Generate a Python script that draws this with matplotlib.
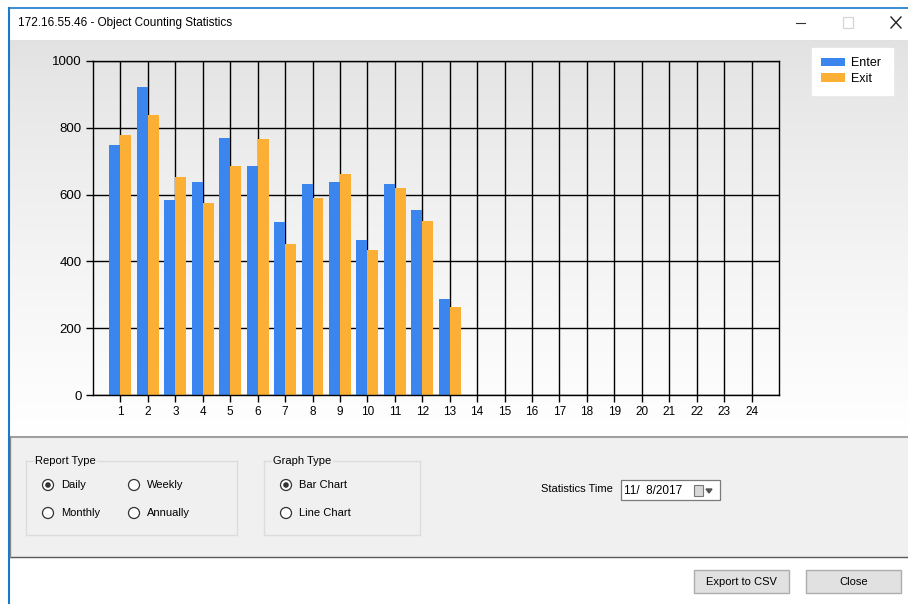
import numpy as np
import matplotlib
matplotlib.use("Agg")
import matplotlib.pyplot as plt
from matplotlib.patches import Rectangle, Circle

# ---------------- data ----------------
hours = list(range(1, 25))
hour_labels = [str(h) for h in hours]
enter_counts = [748, 921, 583, 639, 769, 686, 518, 633, 639, 464, 633, 554, 287]
exit_counts = [777, 838, 652, 574, 686, 766, 453, 590, 661, 434, 621, 521, 262]
y_ticks = [0, 200, 400, 600, 800, 1000]
series_names = ["Enter", "Exit"]
window_title = "172.16.55.46 - Object Counting Statistics"

BLUE = "#3b86ee"
ORANGE = "#fbb035"
FONT = "Liberation Sans"

W, H = 908, 604
fig = plt.figure(figsize=(W / 100, H / 100), dpi=100)

# ---------------- window background (pixel coordinates) ----------------
bg = fig.add_axes([0, 0, 1, 1])
bg.set_xlim(0, W)
bg.set_ylim(H, 0)
bg.axis("off")
bg.add_patch(Rectangle((0, 0), W, H, color="white", zorder=0))

# chart-region vertical gradient
grad = np.linspace(0, 1, 256).reshape(-1, 1)
top_c = np.array([0.885, 0.885, 0.885])
bot_c = np.array([1.0, 1.0, 1.0])
img = top_c + (bot_c - top_c) * grad ** 0.8
img = np.repeat(img[:, None, :], 2, axis=1)
bg.imshow(img, extent=(10, W, 436, 40), aspect="auto", zorder=1)

# window border (blue)
bg.plot([8.5, W], [7.5, 7.5], color="#1979ca", lw=1.2, zorder=5)
bg.plot([8.5, 8.5], [7.5, H], color="#1979ca", lw=1.5, zorder=5)

# title bar
bg.text(18, 23, window_title, fontsize=8.5, family=FONT, va="center", ha="left", zorder=6)
bg.plot([796, 805], [22.5, 22.5], color="#333333", lw=0.8, zorder=6)
bg.add_patch(Rectangle((843, 17), 10, 11, fill=False, ec="#d5d5d5", lw=0.9, zorder=6))
bg.plot([891, 901], [17, 28], color="#222222", lw=1.0, zorder=6)
bg.plot([891, 901], [28, 17], color="#222222", lw=1.0, zorder=6)

# bottom control panel
bg.add_patch(Rectangle((10, 437), W - 10, 120, color="#f0f0f0", zorder=2))
bg.plot([10, W], [437, 437], color="#a0a0a0", lw=1.5, zorder=3)
bg.plot([10, W], [557, 557], color="#5a5a5a", lw=1.0, zorder=3)
bg.plot([10, 10], [437, 557], color="#8a8a8a", lw=1.0, zorder=3)

def group_box(x0, x1, y0, y1, label, lab_x, lab_w):
    c = "#dcdcdc"
    bg.plot([x0, lab_x - 2], [y0, y0], color=c, lw=1, zorder=3)
    bg.plot([lab_x + lab_w, x1], [y0, y0], color=c, lw=1, zorder=3)
    bg.plot([x0, x0], [y0, y1], color=c, lw=1, zorder=3)
    bg.plot([x1, x1], [y0, y1], color=c, lw=1, zorder=3)
    bg.plot([x0, x1], [y1, y1], color=c, lw=1, zorder=3)
    bg.text(lab_x, y0, label, fontsize=8, family=FONT, va="center", ha="left", zorder=4)

group_box(26, 237, 461, 535, "Report Type", 35, 62)
group_box(264, 420, 461, 535, "Graph Type", 273, 60)

def radio(x, y, label, selected=False):
    bg.add_patch(Circle((x, y), 5.5, fc="white", ec="#333333", lw=0.9, zorder=4))
    if selected:
        bg.add_patch(Circle((x, y), 2.8, fc="#333333", ec="none", zorder=5))
    bg.text(x + 13, y, label, fontsize=8, family=FONT, va="center", ha="left", zorder=4)

radio(48, 485, "Daily", True)
radio(134, 485, "Weekly")
radio(48, 513, "Monthly")
radio(134, 513, "Annually")
radio(286, 485, "Bar Chart", True)
radio(286, 513, "Line Chart")

bg.text(541, 489, "Statistics Time", fontsize=8, family=FONT, va="center", ha="left", zorder=4)
bg.add_patch(Rectangle((621, 480), 99, 20, fc="white", ec="#7a7a7a", lw=0.9, zorder=4))
bg.text(624, 490.5, "11/  8/2017", fontsize=8.5, family=FONT, va="center", ha="left", zorder=5)
bg.add_patch(Rectangle((694, 485), 9, 11, fc="#d8d8d8", ec="#777777", lw=0.8, zorder=5))
bg.fill([706, 712, 709], [489, 489, 493], color="#555555", zorder=5)

def button(x0, x1, y0, y1, label):
    bg.add_patch(Rectangle((x0, y0), x1 - x0, y1 - y0, fc="#e1e1e1", ec="#adadad", lw=1, zorder=4))
    bg.text((x0 + x1) / 2, (y0 + y1) / 2 + 0.5, label, fontsize=8, family=FONT,
            va="center", ha="center", zorder=5)

button(694, 789, 570, 593, "Export to CSV")
button(806, 901, 570, 593, "Close")

# ---------------- chart ----------------
ax = fig.add_axes([93 / W, 1 - 395 / H, (779 - 93) / W, (395 - 61) / H])
ax.set_facecolor("none")
x_e = np.arange(1, len(enter_counts) + 1)
x_x = np.arange(1, len(exit_counts) + 1)
bw = 0.4
b1 = ax.bar(x_e - bw / 2, enter_counts, bw, color=BLUE, zorder=2, label=series_names[0])
b2 = ax.bar(x_x + bw / 2, exit_counts, bw, color=ORANGE, zorder=2, label=series_names[1])

ax.set_xlim(0, 25)
ax.set_ylim(0, 1000)
ax.set_xticks(hours)
ax.set_xticklabels(hour_labels, fontsize=8.5, family=FONT)
ax.set_yticks(y_ticks)
ax.set_yticklabels([str(v) for v in y_ticks], fontsize=9.5, family=FONT)
ax.tick_params(axis="both", direction="out", length=5, width=1, color="black", pad=3)
ax.grid(True, color="black", lw=1, zorder=1)
ax.set_axisbelow(True)
for s in ax.spines.values():
    s.set_color("black")
    s.set_linewidth(1)
    s.set_zorder(3)

leg = fig.legend(handles=[b1, b2], labels=series_names, loc="upper left",
                 bbox_to_anchor=(812 / W, 1 - 89 / H, 81 / W, 41 / H), mode="expand",
                 frameon=True, fancybox=False,
                 edgecolor="white", facecolor="white", framealpha=1,
                 prop={"family": FONT, "size": 9}, handlelength=1.9, handleheight=0.7,
                 handletextpad=0.45, labelspacing=0.3, borderpad=0.75, borderaxespad=0)

fig.savefig("out.png", dpi=100)
